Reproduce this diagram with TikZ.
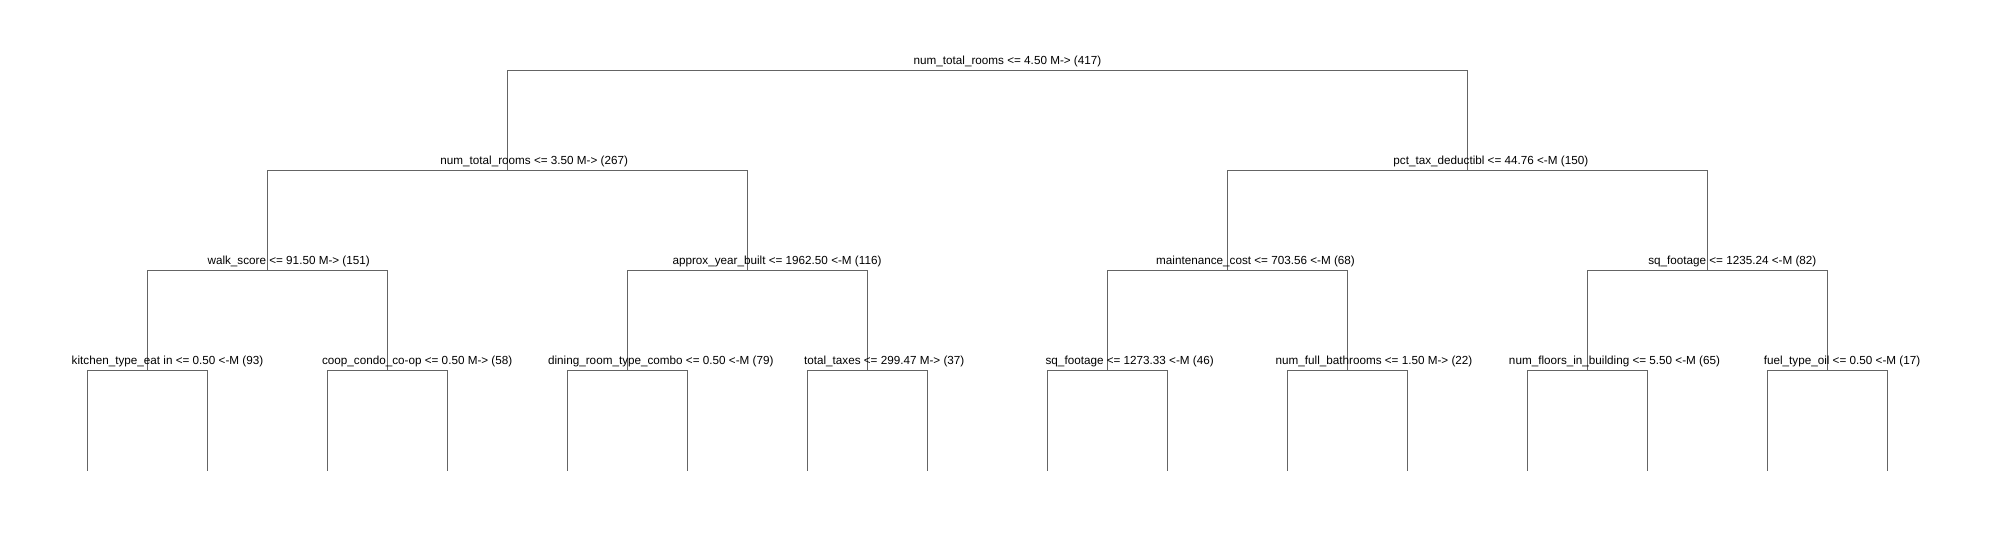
\documentclass[tikz,border=0pt]{standalone}
\usepackage{fontspec}
\setmainfont{Liberation Sans}
\definecolor{treeline}{RGB}{100,100,100}
\tikzset{
    split/.style={anchor=base,inner sep=0pt,
        font=\fontsize{11.7}{13}\selectfont},
    branch/.style={draw=treeline,line width=1pt}
}
\begin{document}
\begin{tikzpicture}[x=1pt,y=-1pt]
    \useasboundingbox [fill=white] (0,0) rectangle (1991,540);

    % Split points
    \coordinate (T) at (987.3,70.5);
    \coordinate (L) at (507.3,170.5);
    \coordinate (R) at (1467.3,170.5);
    \coordinate (LL) at (267.3,270.5);
    \coordinate (LR) at (747.3,270.5);
    \coordinate (RL) at (1227.3,270.5);
    \coordinate (RR) at (1707.3,270.5);
    \coordinate (LLL) at (147.3,370.5);
    \coordinate (LLR) at (387.3,370.5);
    \coordinate (LRL) at (627.3,370.5);
    \coordinate (LRR) at (867.3,370.5);
    \coordinate (RLL) at (1107.3,370.5);
    \coordinate (RLR) at (1347.3,370.5);
    \coordinate (RRL) at (1587.3,370.5);
    \coordinate (RRR) at (1827.3,370.5);

    % Leaf ends
    \coordinate (LLL1) at (87.3,470.5);
    \coordinate (LLL2) at (207.3,470.5);
    \coordinate (LLR1) at (327.3,470.5);
    \coordinate (LLR2) at (447.3,470.5);
    \coordinate (LRL1) at (567.3,470.5);
    \coordinate (LRL2) at (687.3,470.5);
    \coordinate (LRR1) at (807.3,470.5);
    \coordinate (LRR2) at (927.3,470.5);
    \coordinate (RLL1) at (1047.3,470.5);
    \coordinate (RLL2) at (1167.3,470.5);
    \coordinate (RLR1) at (1287.3,470.5);
    \coordinate (RLR2) at (1407.3,470.5);
    \coordinate (RRL1) at (1527.3,470.5);
    \coordinate (RRL2) at (1647.3,470.5);
    \coordinate (RRR1) at (1767.3,470.5);
    \coordinate (RRR2) at (1887.3,470.5);

    % Branches
    \draw [branch] (L) |- (T) -| (R);
    \draw [branch] (LL) |- (L) -| (LR);
    \draw [branch] (RL) |- (R) -| (RR);
    \draw [branch] (LLL) |- (LL) -| (LLR);
    \draw [branch] (LRL) |- (LR) -| (LRR);
    \draw [branch] (RLL) |- (RL) -| (RLR);
    \draw [branch] (RRL) |- (RR) -| (RRR);
    \draw [branch] (LLL1) |- (LLL) -| (LLL2);
    \draw [branch] (LLR1) |- (LLR) -| (LLR2);
    \draw [branch] (LRL1) |- (LRL) -| (LRL2);
    \draw [branch] (LRR1) |- (LRR) -| (LRR2);
    \draw [branch] (RLL1) |- (RLL) -| (RLL2);
    \draw [branch] (RLR1) |- (RLR) -| (RLR2);
    \draw [branch] (RRL1) |- (RRL) -| (RRL2);
    \draw [branch] (RRR1) |- (RRR) -| (RRR2);

    % Split labels
    \node (Tlab) at (1007.5,64.2) [split]
        {num\_total\_rooms <= 4.50 M-> (417)};
    \node (Llab) at (534.2,164.2) [split]
        {num\_total\_rooms <= 3.50 M-> (267)};
    \node (Rlab) at (1490.8,164.2) [split]
        {pct\_tax\_deductibl <= 44.76 <-M (150)};
    \node (LLlab) at (288.7,264.2) [split]
        {walk\_score <= 91.50 M-> (151)};
    \node (LRlab) at (777,264.2) [split]
        {approx\_year\_built <= 1962.50 <-M (116)};
    \node (RLlab) at (1255.5,264.2) [split]
        {maintenance\_cost <= 703.56 <-M (68)};
    \node (RRlab) at (1732.3,264.2) [split]
        {sq\_footage <= 1235.24 <-M (82)};
    \node (LLLlab) at (167.5,364.2) [split]
        {kitchen\_type\_eat in <= 0.50 <-M (93)};
    \node (LLRlab) at (417.2,364.2) [split]
        {coop\_condo\_co-op <= 0.50 M-> (58)};
    \node (LRLlab) at (660.8,364.2) [split]
        {dining\_room\_type\_combo <= 0.50 <-M (79)};
    \node (LRRlab) at (884.2,364.2) [split]
        {total\_taxes <= 299.47 M-> (37)};
    \node (RLLlab) at (1129.7,364.2) [split]
        {sq\_footage <= 1273.33 <-M (46)};
    \node (RLRlab) at (1374,364.2) [split]
        {num\_full\_bathrooms <= 1.50 M-> (22)};
    \node (RRLlab) at (1614.5,364.2) [split]
        {num\_floors\_in\_building <= 5.50 <-M (65)};
    \node (RRRlab) at (1842,364.2) [split]
        {fuel\_type\_oil <= 0.50 <-M (17)};
\end{tikzpicture}
\end{document}
